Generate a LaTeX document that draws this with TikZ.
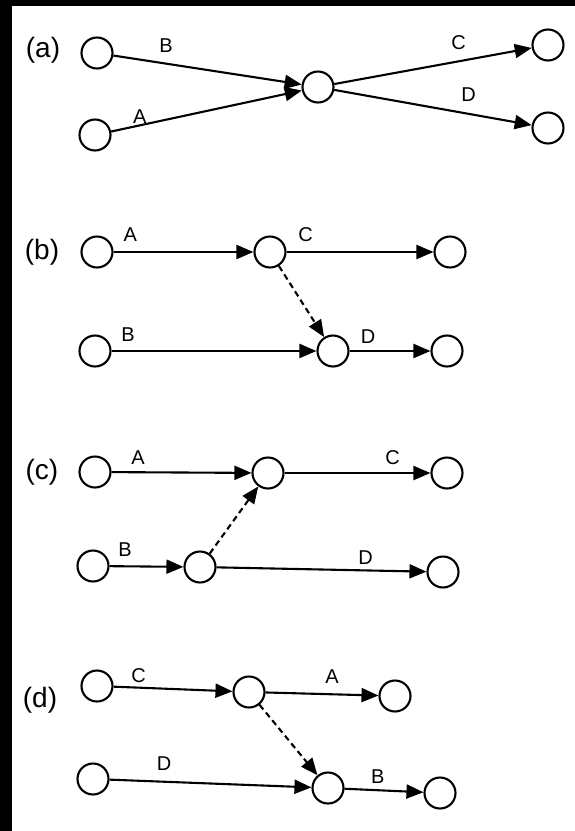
\documentclass[tikz,border=0pt]{standalone}
\usepackage{fontspec}
\setmainfont{Liberation Sans}
\usetikzlibrary{arrows.meta}

\begin{document}
\begin{tikzpicture}[x=1pt, y=-1pt,
  ev/.style={circle, draw, fill=white, line width=2.1pt, minimum size=31pt, inner sep=0pt},
  act/.style={line width=2.1pt, -{Triangle[length=17pt, width=14pt]}},
  dum/.style={act, dash pattern=on 6pt off 4pt},
  lbl/.style={font=\fontsize{20}{22}\selectfont, inner sep=0pt},
  tag/.style={font=\fontsize{28}{30}\selectfont, inner sep=0pt}]

% --- Scan frame ---
\fill[black] (0,0) rectangle (575,831);
\fill[white] (12,6) rectangle (575,831);

% --- (a) merge then split ---
\node[tag] (ta) at (43,50) {(a)};
\node[ev] (a1) at (97,53) {};
\node[ev] (a2) at (95,135) {};
\node[ev] (a3) at (318,87) {};
\node[ev] (a4) at (548,45) {};
\node[ev] (a5) at (548,128) {};
\draw[act] (a1) -- node[lbl, above=10.5pt, pos=0.28] {B} (a3);
\draw[act] (a2) -- node[lbl, above=1pt, pos=0.15] {A} (a3);
\draw[act] (a3) -- node[lbl, above=10.5pt, pos=0.63] {C} (a4);
\draw[act] (a3) -- node[lbl, above=11.5pt, pos=0.68] {D} (a5);

% --- (b) ---
\node[tag] (tb) at (42,252) {(b)};
\node[ev] (b1) at (97,252) {};
\node[ev] (b2) at (270,252) {};
\node[ev] (b3) at (450,252) {};
\node[ev] (b4) at (95,351) {};
\node[ev] (b5) at (333,351) {};
\node[ev] (b6) at (447,351) {};
\draw[act] (b1) -- node[lbl, above=9.5pt, pos=0.12] {A} (b2);
\draw[act] (b2) -- node[lbl, above=9.5pt, pos=0.13] {C} (b3);
\draw[act] (b4) -- node[lbl, above=8.5pt, pos=0.08] {B} (b5);
\draw[act] (b5) -- node[lbl, above=6.5pt, pos=0.23] {D} (b6);
\draw[dum] (b2) -- (b5);

% --- (c) ---
\node[tag] (tc) at (42,472) {(c)};
\node[ev] (c1) at (95,472) {};
\node[ev] (c2) at (268,473) {};
\node[ev] (c3) at (447,473) {};
\node[ev] (c4) at (93,566) {};
\node[ev] (c5) at (200,567) {};
\node[ev] (c6) at (443,572) {};
\draw[act] (c1) -- node[lbl, above=6.5pt, pos=0.19] {A} (c2);
\draw[act] (c2) -- node[lbl, above=7.5pt, pos=0.74] {C} (c3);
\draw[act] (c4) -- node[lbl, above=8.5pt, pos=0.21] {B} (c5);
\draw[act] (c5) -- node[lbl, above=5pt, pos=0.71] {D} (c6);
\draw[dum] (c5) -- (c2);

% --- (d) ---
\node[tag] (td) at (40,700) {(d)};
\node[ev] (d1) at (97,686) {};
\node[ev] (d2) at (249,692) {};
\node[ev] (d3) at (395,696) {};
\node[ev] (d4) at (93,779) {};
\node[ev] (d5) at (328,788) {};
\node[ev] (d6) at (440,793) {};
\draw[act] (d1) -- node[lbl, above=4pt, pos=0.21] {C} (d2);
\draw[act] (d2) -- node[lbl, above=9.5pt, pos=0.59] {A} (d3);
\draw[act] (d4) -- node[lbl, above=10.5pt, pos=0.27] {D} (d5);
\draw[act] (d5) -- node[lbl, above=5.5pt, pos=0.42] {B} (d6);
\draw[dum] (d2) -- (d5);

\end{tikzpicture}
\end{document}
